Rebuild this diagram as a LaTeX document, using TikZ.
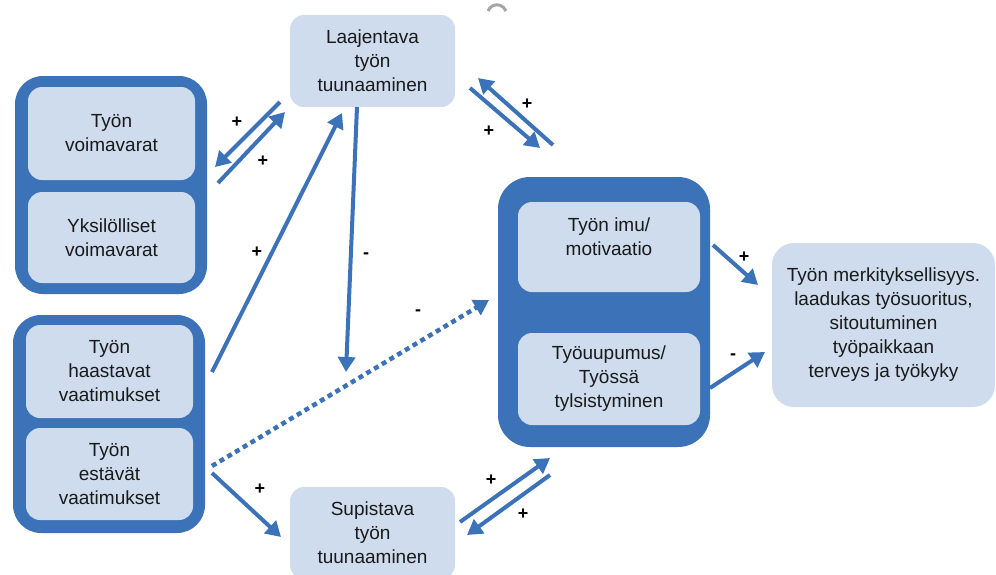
\documentclass[tikz,border=0pt]{standalone}
\usepackage{fontspec}
\setmainfont{Liberation Sans}
\usetikzlibrary{arrows.meta}
\definecolor{dblue}{RGB}{59,114,184}
\definecolor{lblue}{RGB}{206,220,238}
\definecolor{txt}{RGB}{26,26,26}
\begin{document}
\begin{tikzpicture}[x=1pt,y=-1pt,
  grp/.style={fill=dblue, rounded corners=28pt, inner sep=0pt},
  box/.style={fill=lblue, rounded corners=14pt, align=center, text=txt,
    font=\fontsize{19}{24}\selectfont, inner sep=0pt},
  arr/.style={draw=dblue, line width=4pt, -{Triangle[length=15pt,width=17pt]}},
  dotarr/.style={arr, line width=4.5pt, dash pattern=on 5pt off 4pt},
  sign/.style={font=\bfseries\fontsize{18}{18}\selectfont, text=black, inner sep=0pt}]
\useasboundingbox (0,0) rectangle (996,574);

% small gray arc at the top
\draw[gray!70, line width=3pt] (488,11) arc[start angle=200, end angle=340, radius=9.5];

% groups
\node[grp, minimum width=192pt, minimum height=218pt] (g1) at (111,185) {};
\node[box, minimum width=167pt, minimum height=93pt] (tv) at (111.5,133.5) {Työn\\voimavarat};
\node[box, minimum width=167pt, minimum height=91pt] (yv) at (111.5,237.5) {Yksilölliset\\voimavarat};

\node[grp, minimum width=192pt, minimum height=218pt] (g2) at (109,424) {};
\node[box, minimum width=167pt, minimum height=93pt] (hv) at (109.5,371.5) {Työn\\haastavat\\vaatimukset};
\node[box, minimum width=167pt, minimum height=92pt] (ev) at (109.5,474) {Työn\\estävät\\vaatimukset};

\node[box, minimum width=165pt, minimum height=92pt] (lt) at (372.5,61) {Laajentava\\työn\\tuunaaminen};
\node[box, minimum width=165pt, minimum height=92pt] (st) at (372.5,533) {Supistava\\työn\\tuunaaminen};

\node[grp, rounded corners=32pt, minimum width=212pt, minimum height=270pt] (g3) at (604,312) {};
\node[box, minimum width=182pt, minimum height=90pt] (imu) at (609,247) {Työn imu/\\motivaatio\vphantom{g}\\[-4pt]};
\node[box, minimum width=182pt, minimum height=92pt] (uup) at (609,379) {Työuupumus/\\Työssä\\tylsistyminen};

\node[box, rounded corners=22pt, minimum width=223pt, minimum height=164pt] (res) at (883.5,325)
  {Työn merkityksellisyys.\\laadukas työsuoritus,\\sitoutuminen\\työpaikkaan\\terveys ja työkyky};

% arrow end points
\coordinate (a1) at (280,102); \coordinate (a2) at (215,167);
\coordinate (b1) at (218,183); \coordinate (b2) at (285,112);
\coordinate (v1) at (357,107); \coordinate (v2) at (346,372);
\coordinate (h1) at (212,372); \coordinate (h2) at (342,113);
\coordinate (c1) at (470,88);  \coordinate (c2) at (540,148);
\coordinate (d1) at (553,145); \coordinate (d2) at (478,78);
\coordinate (p1) at (212,466); \coordinate (p2) at (489,300);
\coordinate (s1) at (212,473); \coordinate (s2) at (281,537);
\coordinate (e1) at (460,522); \coordinate (e2) at (550,458);
\coordinate (f1) at (550,475); \coordinate (f2) at (467,535);
\coordinate (r1) at (713,245); \coordinate (r2) at (758,285);
\coordinate (m1) at (710,388); \coordinate (m2) at (765,352);

\draw[arr] (a1) -- (a2);
\draw[arr] (b1) -- (b2);
\draw[arr] (v1) -- (v2);
\draw[arr] (h1) -- (h2);
\draw[arr] (c1) -- (c2);
\draw[arr] (d1) -- (d2);
\draw[dotarr] (p1) -- (p2);
\draw[arr] (s1) -- (s2);
\draw[arr] (e1) -- (e2);
\draw[arr] (f1) -- (f2);
\draw[arr] (r1) -- (r2);
\draw[arr] (m1) -- (m2);

% signs
\node[sign] (l1) at (237,122) {+};
\node[sign] (l2) at (263,161) {+};
\node[sign] (l3) at (257,252) {+};
\node[sign] (l4) at (366,256) {-};
\node[sign] (l5) at (527,104) {+};
\node[sign] (l6) at (489,131) {+};
\node[sign] (l7) at (418,313) {-};
\node[sign] (l8) at (260,489) {+};
\node[sign] (l9) at (491,480) {+};
\node[sign] (l10) at (523,514) {+};
\node[sign] (l11) at (744,257) {+};
\node[sign] (l12) at (733,357) {-};
\end{tikzpicture}
\end{document}
